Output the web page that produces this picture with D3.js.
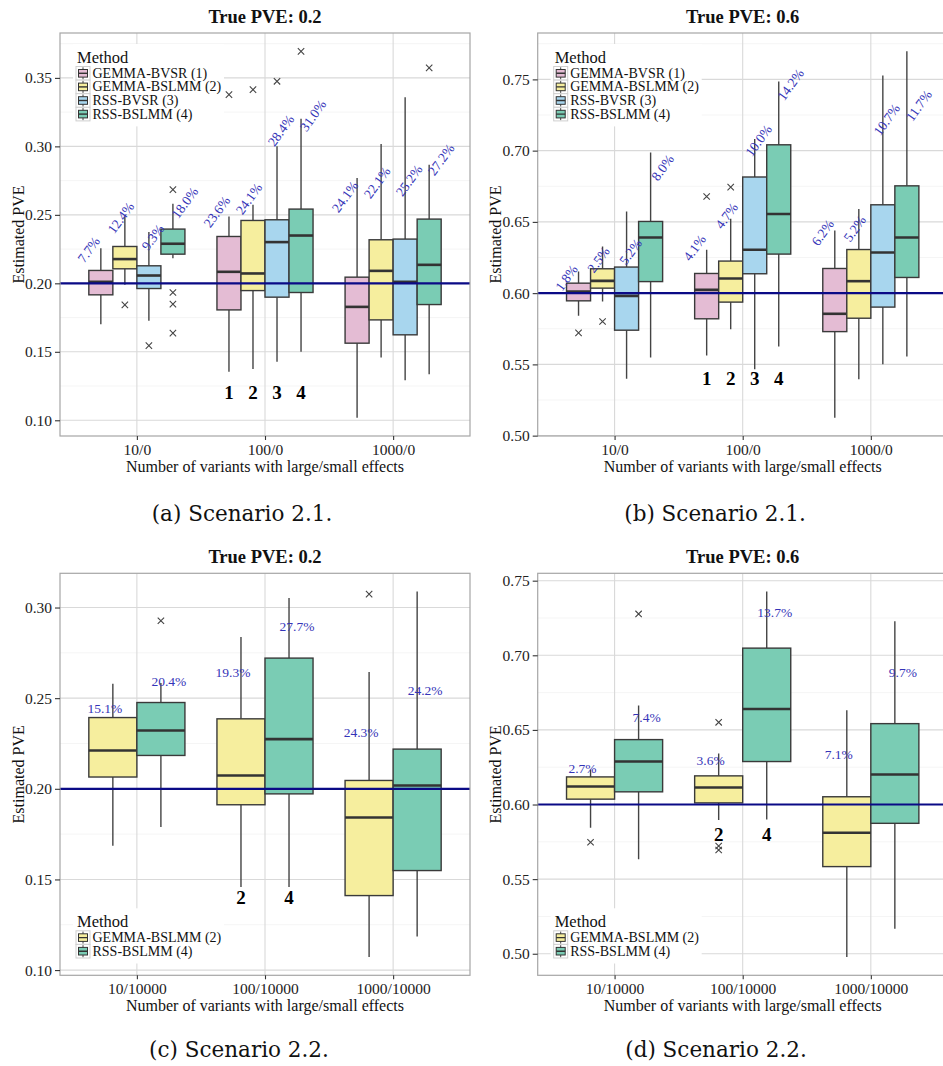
<!DOCTYPE html>
<html>
<head>
<meta charset="utf-8">
<script src="https://cdn.jsdelivr.net/npm/d3@7"></script>
<style>
  body { margin: 0; background: #fff; }
  svg { display: block; }
</style>
</head>
<body>
<svg id="fig" width="943" height="1066"></svg>
<script>
// ---------------- data ----------------
const methodNames = ["GEMMA-BVSR (1)", "GEMMA-BSLMM (2)", "RSS-BVSR (3)", "RSS-BSLMM (4)"];
const methodTags = ["1", "2", "3", "4"];

const groups21 = ["10/0", "100/0", "1000/0"];
const groups22 = ["10/10000", "100/10000", "1000/10000"];

const methods21 = [0, 1, 2, 3];
const methods22 = [1, 3];

// box summaries [lower whisker, Q1, median, Q3, upper whisker]; group-major, method-minor
const statsA = [
  [0.1702, 0.1916, 0.2011, 0.2094, 0.2257],
  [0.1989, 0.2106, 0.2177, 0.2269, 0.2488],
  [0.1726, 0.1962, 0.2057, 0.2128, 0.2374],
  [0.2184, 0.2213, 0.2289, 0.2396, 0.2581],
  [0.1355, 0.1806, 0.2084, 0.2342, 0.2488],
  [0.1375, 0.1947, 0.2072, 0.2459, 0.2574],
  [0.1428, 0.1899, 0.2301, 0.2464, 0.3000],
  [0.1501, 0.1933, 0.2349, 0.2542, 0.3202],
  [0.1019, 0.1563, 0.1828, 0.2045, 0.2769],
  [0.1458, 0.1733, 0.2091, 0.2318, 0.3018],
  [0.1292, 0.1624, 0.2011, 0.2323, 0.3358],
  [0.1336, 0.1845, 0.2135, 0.2469, 0.2866]
];
const outliersA = [
  [], [0.1843], [0.1545], [0.2684, 0.1933, 0.1848, 0.1636],
  [0.3378], [0.3414], [0.3475], [0.3694],
  [], [], [], [0.3573]
];
const labelsA = ["7.7%", "12.4%", "9.3%", "18.0%", "23.6%", "24.1%", "28.4%", "31.0%", "24.1%", "22.1%", "25.2%", "27.2%"];
const labelAtA = [0.2245, 0.2478, 0.2336, 0.2588, 0.2522, 0.2617, 0.3115, 0.3224, 0.2632, 0.2735, 0.2750, 0.2903];

const statsB = [
  [0.5841, 0.5946, 0.6011, 0.6070, 0.6152],
  [0.5941, 0.6035, 0.6086, 0.6171, 0.6327],
  [0.5400, 0.5740, 0.5981, 0.6183, 0.6573],
  [0.5548, 0.6081, 0.6390, 0.6503, 0.6987],
  [0.5562, 0.5820, 0.6023, 0.6138, 0.6304],
  [0.5747, 0.5937, 0.6103, 0.6225, 0.6522],
  [0.5466, 0.6136, 0.6304, 0.6815, 0.7081],
  [0.5625, 0.6274, 0.6555, 0.7041, 0.7486],
  [0.5126, 0.5730, 0.5855, 0.6173, 0.6440],
  [0.5396, 0.5824, 0.6084, 0.6306, 0.6590],
  [0.5501, 0.5902, 0.6285, 0.6620, 0.7528],
  [0.5555, 0.6110, 0.6390, 0.6753, 0.7697]
];
const outliersB = [
  [0.5721], [0.5801], [], [],
  [0.6678], [0.6744], [], [],
  [], [], [], []
];
const labelsB = ["1.8%", "2.5%", "5.2%", "8.0%", "4.1%", "4.7%", "10.0%", "14.2%", "6.2%", "5.2%", "10.7%", "11.7%"];
const labelAtB = [0.6107, 0.6234, 0.6290, 0.6880, 0.6318, 0.6543, 0.7070, 0.7463, 0.6424, 0.6452, 0.7217, 0.7315];

const statsC = [
  [0.1686, 0.2065, 0.2211, 0.2393, 0.2579],
  [0.1789, 0.2184, 0.2322, 0.2476, 0.2583],
  [0.1458, 0.1912, 0.2073, 0.2386, 0.2837],
  [0.1458, 0.1972, 0.2274, 0.2721, 0.3052],
  [0.1072, 0.1411, 0.1842, 0.2046, 0.2644],
  [0.1185, 0.1549, 0.2018, 0.2219, 0.3088]
];
const outliersC = [[], [0.2927], [], [], [0.3074], []];
const labelsC = ["15.1%", "20.4%", "19.3%", "27.7%", "24.3%", "24.2%"];
const labelAtC = [0.2441, 0.2590, 0.2640, 0.2894, 0.2309, 0.2541];

const statsD = [
  [0.5844, 0.6036, 0.6121, 0.6185, 0.6235],
  [0.5633, 0.6085, 0.6288, 0.6435, 0.6664],
  [0.5896, 0.6011, 0.6114, 0.6192, 0.6342],
  [0.5900, 0.6288, 0.6640, 0.7048, 0.7427],
  [0.4978, 0.5584, 0.5811, 0.6052, 0.6631],
  [0.5167, 0.5874, 0.6201, 0.6542, 0.7228]
];
const outliersD = [[0.5747], [0.7277], [0.6551, 0.5722, 0.5695], [], [], []];
const labelsD = ["2.7%", "7.4%", "3.6%", "13.7%", "7.1%", "9.7%"];
const labelAtD = [0.6239, 0.6580, 0.6297, 0.7288, 0.6337, 0.6883];

const ticksLow = [0.10, 0.15, 0.20, 0.25, 0.30, 0.35];
const ticksHigh = [0.50, 0.55, 0.60, 0.65, 0.70, 0.75];

const truePVE = [0.2, 0.6, 0.2, 0.6];
const tagLevels = [0.12, 0.54, 0.14, 0.58];
const panelTitles = ["True PVE: 0.2", "True PVE: 0.6", "True PVE: 0.2", "True PVE: 0.6"];
const captions = ["(a) Scenario 2.1.", "(b) Scenario 2.1.", "(c) Scenario 2.2.", "(d) Scenario 2.2."];
const xTitle = "Number of variants with large/small effects";
const yTitle = "Estimated PVE";

// ---------------- styling ----------------
const fillColors = ["#e4bcd4", "#f6ee9e", "#a8d6ee", "#7accb4"];
const serif = "'Liberation Serif', 'Times New Roman', serif";
const labelBlue = "#3434b8";

const panels = [
  { left: 60,    top: 33,    w: 410, h: 403, groups: groups21, methods: methods21, stats: statsA, outliers: outliersA, labels: labelsA, labelAt: labelAtA, ticks: ticksLow,  rotate: true,  legend: "top" },
  { left: 537.7, top: 33,    w: 410, h: 403, groups: groups21, methods: methods21, stats: statsB, outliers: outliersB, labels: labelsB, labelAt: labelAtB, ticks: ticksHigh, rotate: true,  legend: "top" },
  { left: 60,    top: 573.3, w: 410, h: 402, groups: groups22, methods: methods22, stats: statsC, outliers: outliersC, labels: labelsC, labelAt: labelAtC, ticks: ticksLow,  rotate: false, legend: "bottom" },
  { left: 537.7, top: 573.3, w: 410, h: 402, groups: groups22, methods: methods22, stats: statsD, outliers: outliersD, labels: labelsD, labelAt: labelAtD, ticks: ticksHigh, rotate: false, legend: "bottom" }
];

const svg = d3.select("#fig");
svg.append("rect").attr("width", 943).attr("height", 1066).attr("fill", "#fff");

panels.forEach((P, pi) => {
  const g = svg.append("g").attr("transform", `translate(${P.left},${P.top})`);
  const W = P.w, H = P.h;
  const nm = P.methods.length;

  const x = d3.scalePoint().domain(P.groups).range([0, W]).padding(0.6);
  const unit = x.step();

  // y limits: data range expanded by 5% on each side
  const allVals = P.stats.flat().concat(P.outliers.flat());
  const lo = d3.min(allVals), hi = d3.max(allVals), pad = (hi - lo) * 0.05;
  const y = d3.scaleLinear().domain([lo - pad, hi + pad]).range([H, 0]);
  const [d0, d1] = y.domain();
  const ticks = P.ticks.filter(t => t >= d0 && t <= d1);

  const clipId = "clip" + pi;
  g.append("clipPath").attr("id", clipId).append("rect").attr("width", W).attr("height", H);
  const body = g.append("g").attr("clip-path", `url(#${clipId})`);

  body.append("rect").attr("width", W).attr("height", H).attr("fill", "#fff");

  // minor grid (midway between major breaks)
  const step = P.ticks[1] - P.ticks[0];
  const minor = [];
  for (let v = P.ticks[0] - step / 2; v <= P.ticks[P.ticks.length - 1] + step; v += step) {
    if (v > d0 && v < d1) minor.push(v);
  }
  body.selectAll(".minor").data(minor).join("line")
    .attr("x1", 0).attr("x2", W).attr("y1", d => y(d)).attr("y2", d => y(d))
    .attr("stroke", "#f2f2f2").attr("stroke-width", 0.8);

  // major grid
  body.selectAll(".majorY").data(ticks).join("line")
    .attr("x1", 0).attr("x2", W).attr("y1", d => y(d)).attr("y2", d => y(d))
    .attr("stroke", "#d9d9d9").attr("stroke-width", 1.1);
  body.selectAll(".majorX").data(P.groups).join("line")
    .attr("y1", 0).attr("y2", H).attr("x1", d => x(d)).attr("x2", d => x(d))
    .attr("stroke", "#d9d9d9").attr("stroke-width", 1.1);

  // boxes dodged inside 0.75 of a category; labels spread a quarter category apart
  const bw = 0.75 * unit / nm;
  const labelStep = nm === 4 ? unit / 4 : unit / 2;
  const boxes = [];
  P.groups.forEach((grp, gi) => {
    P.methods.forEach((m, mi) => {
      const k = gi * nm + mi;
      const x0 = x(grp) - 0.375 * unit + mi * bw;
      boxes.push({
        k, m, gi, x0, cx: x0 + bw / 2, s: P.stats[k], out: P.outliers[k],
        lx: x(grp) + (mi - (nm - 1) / 2) * labelStep
      });
    });
  });

  const bg = body.append("g");
  boxes.forEach(b => {
    const s = b.s;
    bg.append("line").attr("x1", b.cx).attr("x2", b.cx).attr("y1", y(s[4])).attr("y2", y(s[3]))
      .attr("stroke", "#444").attr("stroke-width", 1.4);
    bg.append("line").attr("x1", b.cx).attr("x2", b.cx).attr("y1", y(s[1])).attr("y2", y(s[0]))
      .attr("stroke", "#444").attr("stroke-width", 1.4);
    bg.append("rect").attr("x", b.x0).attr("width", bw)
      .attr("y", y(s[3])).attr("height", y(s[1]) - y(s[3]))
      .attr("fill", fillColors[b.m]).attr("stroke", "#3a3a3a").attr("stroke-width", 1.4);
    bg.append("line").attr("x1", b.x0).attr("x2", b.x0 + bw).attr("y1", y(s[2])).attr("y2", y(s[2]))
      .attr("stroke", "#333").attr("stroke-width", 2.6);
    b.out.forEach(o => {
      const r = 3.2, cy = y(o);
      bg.append("path")
        .attr("d", `M${b.cx - r},${cy - r}L${b.cx + r},${cy + r}M${b.cx - r},${cy + r}L${b.cx + r},${cy - r}`)
        .attr("stroke", "#444").attr("stroke-width", 1.1).attr("fill", "none");
    });
  });

  // true PVE reference line
  body.append("line").attr("x1", 0).attr("x2", W).attr("y1", y(truePVE[pi])).attr("y2", y(truePVE[pi]))
    .attr("stroke", "#0a0a86").attr("stroke-width", 2.2);

  // percentage labels
  boxes.forEach((b, i) => {
    const t = body.append("text")
      .attr("font-family", serif).attr("font-size", 13.5)
      .attr("fill", labelBlue).attr("text-anchor", "middle").attr("dominant-baseline", "central")
      .text(P.labels[i]);
    if (P.rotate) t.attr("transform", `translate(${b.lx},${y(P.labelAt[i])}) rotate(-54)`);
    else t.attr("x", b.lx).attr("y", y(P.labelAt[i]));
  });

  // method numbers under the middle group
  boxes.filter(b => b.gi === 1).forEach(b => {
    body.append("text").attr("x", b.cx).attr("y", y(tagLevels[pi]))
      .attr("font-family", serif).attr("font-weight", "bold").attr("font-size", 19)
      .attr("text-anchor", "middle").attr("dominant-baseline", "central")
      .text(methodTags[b.m]);
  });

  // legend
  const legX = 13, legW = 151, itemH = 13.6;
  const legTop = P.legend === "top" ? 11 : H - 67;
  const lg = body.append("g").attr("transform", `translate(${legX},${legTop})`);
  lg.append("rect").attr("width", legW).attr("height", 24 + nm * itemH + 4).attr("fill", "#fff");
  lg.append("text").attr("x", 4).attr("y", 13)
    .attr("font-family", serif).attr("font-size", 16.5).attr("dominant-baseline", "central")
    .attr("fill", "#111").text("Method");
  P.methods.forEach((m, i) => {
    const cy = 29.3 + i * itemH;
    const kx = 3, ky = cy - itemH / 2;
    lg.append("rect").attr("x", kx).attr("y", ky).attr("width", 14).attr("height", itemH)
      .attr("fill", "#fff").attr("stroke", "#cfcfcf").attr("stroke-width", 1);
    lg.append("line").attr("x1", kx + 7).attr("x2", kx + 7).attr("y1", ky + 0.8).attr("y2", ky + itemH - 0.8)
      .attr("stroke", "#444").attr("stroke-width", 1);
    lg.append("rect").attr("x", kx + 2.5).attr("y", ky + 3).attr("width", 9).attr("height", itemH - 6)
      .attr("fill", fillColors[m]).attr("stroke", "#333").attr("stroke-width", 1);
    lg.append("line").attr("x1", kx + 2.5).attr("x2", kx + 11.5).attr("y1", cy).attr("y2", cy)
      .attr("stroke", "#333").attr("stroke-width", 1.4);
    lg.append("text").attr("x", 19.5).attr("y", cy)
      .attr("font-family", serif).attr("font-size", 14).attr("dominant-baseline", "central")
      .attr("fill", "#111").text(methodNames[m]);
  });

  // panel border
  g.append("rect").attr("width", W).attr("height", H).attr("fill", "none")
    .attr("stroke", "#a6a6a6").attr("stroke-width", 1.2);

  // axes
  const ya = g.append("g").call(d3.axisLeft(y).tickValues(ticks).tickFormat(d3.format(".2f")).tickSize(5).tickPadding(3));
  const xa = g.append("g").attr("transform", `translate(0,${H})`)
    .call(d3.axisBottom(x).tickSize(4).tickPadding(4));
  [ya, xa].forEach(a => {
    a.select(".domain").remove();
    a.selectAll(".tick line").attr("stroke", "#333").attr("stroke-width", 1.1);
    a.selectAll(".tick text").attr("font-family", serif).attr("font-size", 15.5).attr("fill", "#222");
  });

  // titles
  g.append("text").attr("x", W / 2).attr("y", -16.5)
    .attr("font-family", serif).attr("font-weight", "bold").attr("font-size", 18.5)
    .attr("text-anchor", "middle").attr("dominant-baseline", "central").attr("fill", "#111")
    .text(panelTitles[pi]);
  g.append("text").attr("x", W / 2).attr("y", H + 30)
    .attr("font-family", serif).attr("font-size", 16)
    .attr("text-anchor", "middle").attr("dominant-baseline", "central").attr("fill", "#111")
    .text(xTitle);
  g.append("text").attr("transform", `translate(-42,${H / 2}) rotate(-90)`)
    .attr("font-family", serif).attr("font-size", 16)
    .attr("text-anchor", "middle").attr("dominant-baseline", "central").attr("fill", "#111")
    .text(yTitle);
});

// sub-figure captions
const capPos = [[242, 513], [715, 513], [239, 1049], [716, 1049]];
captions.forEach((c, i) => {
  svg.append("text").attr("x", capPos[i][0]).attr("y", capPos[i][1])
    .attr("font-family", "'DejaVu Serif', serif").attr("font-size", 21.5)
    .attr("text-anchor", "middle").attr("dominant-baseline", "central").attr("fill", "#111")
    .text(c);
});
</script>
</body>
</html>
